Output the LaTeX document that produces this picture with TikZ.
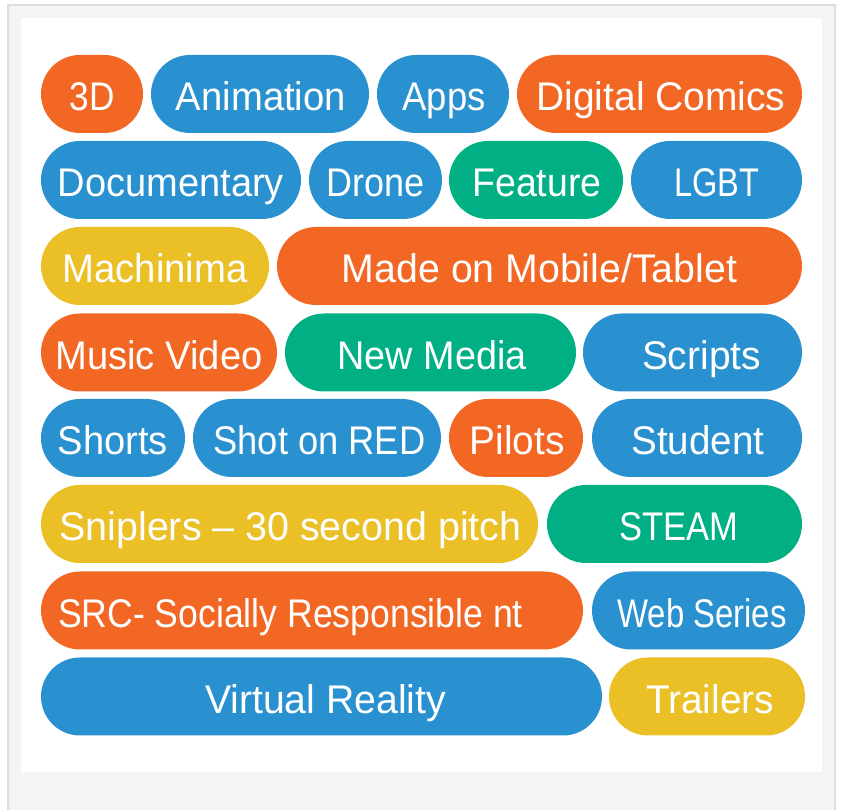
\documentclass[tikz,border=0pt]{standalone}
\usepackage{graphicx}
\usepackage{fontspec}
\setmainfont{Liberation Sans}
\definecolor{cOrange}{HTML}{F26724}
\definecolor{cBlue}{HTML}{2A91D0}
\definecolor{cGreen}{HTML}{00B084}
\definecolor{cYellow}{HTML}{EBC026}
\definecolor{cPanel}{HTML}{F4F4F4}
\definecolor{cFrame}{HTML}{DEDEDE}
% #1 = text width, #2 = text
\newcommand\fitw[2]{\resizebox{#1pt}{\height}{#2}}
% shift text right by half of #1 (pt)
\newcommand\padL[1]{\hspace*{#1pt}}
\tikzset{
  pill/.style={fill=#1, draw=none, rounded corners=39pt, minimum height=78pt,
    inner sep=0pt, text=white, text height=36pt, text depth=2pt,
    font=\fontsize{40}{44}\selectfont},
}
\begin{document}
\begin{tikzpicture}[x=1pt,y=1pt]
\useasboundingbox (0,0) rectangle (841,810);
% outer panel and frame
\fill[white] (0,0) rectangle (841,810);
\fill[cPanel] (8,-2) rectangle (835,805);
\draw[cFrame, line width=2pt] (8,-2) -- (8,805) -- (835,805) -- (835,-2);
\fill[white] (21,38) rectangle (822,792);
% row 1
\node[pill=cOrange, minimum width=102pt] (n3d) at (92,716) {\fitw{45}{3D}};
\node[pill=cBlue, minimum width=218pt] (anim) at (260,716) {\padL{2}\fitw{170}{Animation}};
\node[pill=cBlue, minimum width=132pt] (apps) at (443,716) {\padL{2}\fitw{83}{Apps}};
\node[pill=cOrange, minimum width=285pt] (comics) at (659.5,716) {\padL{3}\fitw{249}{Digital Comics}};
% row 2
\node[pill=cBlue, minimum width=260pt] (docu) at (171,630) {\fitw{226}{Documentary}};
\node[pill=cBlue, minimum width=133pt] (drone) at (375.5,630) {\fitw{98}{Drone}};
\node[pill=cGreen, minimum width=174pt] (feature) at (536,630) {\padL{2}\fitw{129}{Feature}};
\node[pill=cBlue, minimum width=171pt] (lgbt) at (716.5,630) {\fitw{85}{LGBT}};
% row 3
\node[pill=cYellow, minimum width=228pt] (machin) at (155,544) {\fitw{185}{Machinima}};
\node[pill=cOrange, minimum width=525pt] (mobile) at (539.5,544) {\fitw{395}{Made on Mobile/Tablet}};
% row 4
\node[pill=cOrange, minimum width=236pt] (music) at (159,457.5) {\fitw{207}{Music Video}};
\node[pill=cGreen, minimum width=291pt] (newmedia) at (430.5,457.5) {\padL{3}\fitw{189}{New Media}};
\node[pill=cBlue, minimum width=219pt] (scripts) at (692.5,457.5) {\padL{18}\fitw{119}{Scripts}};
% row 5
\node[pill=cBlue, minimum width=144pt] (shorts) at (113,372) {\fitw{110}{Shorts}};
\node[pill=cBlue, minimum width=248pt] (red) at (317,372) {\padL{5}\fitw{212}{Shot on RED}};
\node[pill=cOrange, minimum width=134pt] (pilots) at (516,372) {\padL{2}\fitw{95}{Pilots}};
\node[pill=cBlue, minimum width=210pt] (student) at (697,372) {\padL{2}\fitw{133}{Student}};
% row 6
\node[pill=cYellow, minimum width=497pt] (sniplers) at (289.5,286) {\padL{2}\fitw{462}{Sniplers -- 30 second pitch}};
\node[pill=cGreen, minimum width=255pt] (steam) at (674.5,286) {\padL{9}\fitw{119}{STEAM}};
% row 7
\node[pill=cOrange, minimum width=542pt] (src) at (312,199.5) {\fitw{465}{SRC- Socially Responsible nt}\hspace*{43pt}};
\node[pill=cBlue, minimum width=213pt] (web) at (698.5,199.5) {\padL{7}\fitw{169}{Web Series}};
% row 8
\node[pill=cBlue, minimum width=561pt] (vr) at (321.5,113.5) {\padL{8}\fitw{241}{Virtual Reality}};
\node[pill=cYellow, minimum width=196pt] (trailers) at (707,113.5) {\padL{6}\fitw{128}{Trailers}};
\end{tikzpicture}
\end{document}
